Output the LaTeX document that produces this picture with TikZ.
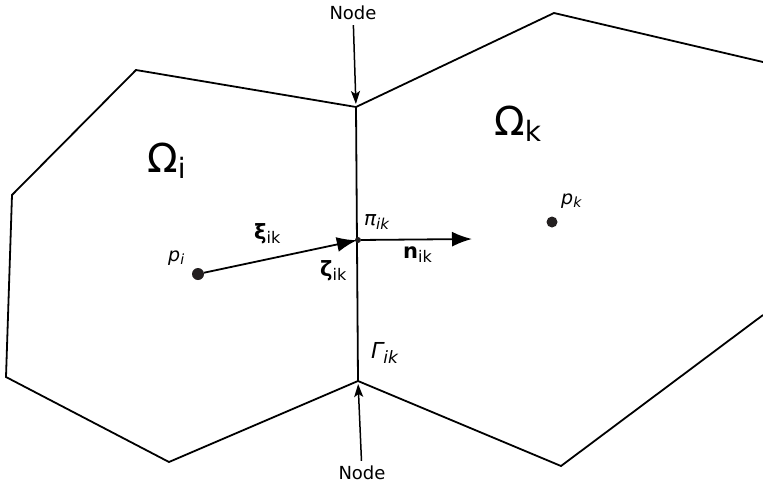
\documentclass[tikz,border=0pt]{standalone}
\usepackage{fontspec}
\setmainfont{DejaVu Sans}
\usetikzlibrary{arrows.meta}
\newcommand\fsz[1]{\fontsize{#1}{#1}\selectfont}
\definecolor{ink}{HTML}{231F20}
\tikzset{
  edge/.style={line width=1.8pt, line join=miter},
  lbl/.style={inner sep=0pt, anchor=base west},
  dot/.style={circle, fill=ink, inner sep=0pt},
  bigarrow/.style={line width=1.8pt, -{Latex[length=20pt,width=15pt]}},
  nodearrow/.style={line width=1.5pt, -{Stealth[length=13pt,width=9pt,inset=3pt]}},
}
\begin{document}
\begin{tikzpicture}[x=1pt,y=-1pt]
\useasboundingbox (0,0) rectangle (763,488);
% shared edge vertices
\coordinate (vt) at (356,107);
\coordinate (vb) at (358,381);
% left cell
\coordinate (l1) at (136,70);
\coordinate (l2) at (12,195);
\coordinate (l3) at (6,377);
\coordinate (l4) at (169,462);
% right cell
\coordinate (r1) at (554,13);
\coordinate (r2) at (763,62);
\coordinate (r3) at (763,315);
\coordinate (r4) at (561,466);

\draw[edge] (vt) -- (l1) -- (l2) -- (l3) -- (l4) -- (vb) -- cycle;
\draw[edge] (vt) -- (r1) -- (r2);
\draw[edge] (r3) -- (r4) -- (vb);

% points
\node[dot, minimum size=12pt] (pi) at (198,274) {};
\node[dot, minimum size=11pt] (pk) at (552,222) {};
\node[dot, minimum size=6pt] (pik) at (358,240) {};
\coordinate (nend) at (472,239);

\draw[bigarrow, shorten >=-2pt] (pi) -- (pik);
\draw[bigarrow] (pik) -- (nend);

% Node labels
\node[inner sep=0pt] (ntop) at (353,13) {\fsz{18}Node};
\node[inner sep=0pt] (nbot) at (362,473) {\fsz{18}Node};
\draw[nodearrow, shorten <=5pt, shorten >=3pt] (ntop) -- (vt);
\draw[nodearrow, shorten <=5pt, shorten >=3pt] (nbot) -- (vb);

% text labels
\node[lbl] (omi) at (147,172) {\fsz{40}Ω\raisebox{-6pt}{\fsz{28}i}};
\node[lbl] (omk) at (494,135) {\fsz{40}Ω\raisebox{-6pt}{\fsz{28}k}};
\node[lbl] (lpi) at (168,261) {\fsz{19}\itshape p\raisebox{-3pt}{\fsz{14}i}};
\node[lbl] (lpk) at (561,204) {\fsz{19}\itshape p\raisebox{-3pt}{\fsz{14}k}};
\node[lbl] (lxi) at (254,239) {\fsz{21}\bfseries ξ\raisebox{-4pt}{\fsz{16}\mdseries ik}};
\node[lbl] (lzeta) at (320,276) {\fsz{21}\bfseries ζ\raisebox{-4pt}{\fsz{16}\mdseries ik}};
\node[lbl] (lpiik) at (364,225) {\fsz{20}\itshape π\raisebox{-4pt}{\fsz{15}ik}};
\node[lbl] (ln) at (403,258) {\fsz{21}\bfseries n\raisebox{-4pt}{\fsz{16}\mdseries ik}};
\node[lbl] (lgam) at (371,358) {\fsz{22}\itshape Γ\raisebox{-5pt}{\fsz{17}ik}};
\end{tikzpicture}
\end{document}
